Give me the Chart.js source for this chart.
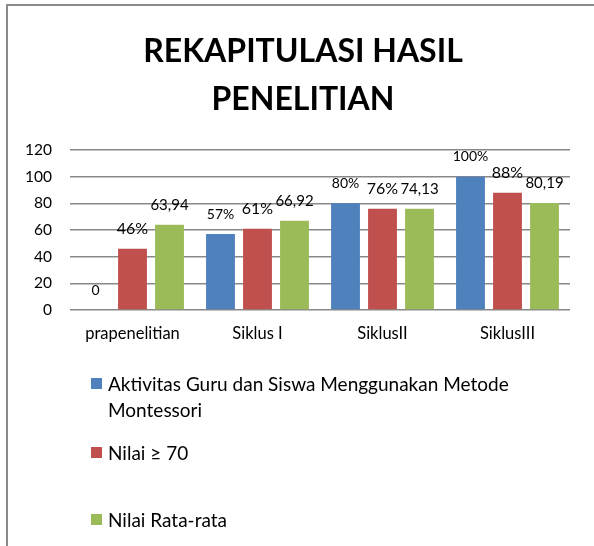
<!DOCTYPE html>
<html>
<head>
<meta charset="utf-8">
<script src="https://cdn.jsdelivr.net/npm/chart.js@4"></script>
<style>
  body { margin: 0; background: #fff; }
  #wrap { position: relative; width: 594px; height: 546px; overflow: hidden; }
  #judul { position: absolute; left: 0; top: 26px; width: 606px; text-align: center;
           font-family: Lato, "Open Sans", sans-serif; font-size: 32px; font-weight: bold;
           line-height: 47.5px; color: #000; }
  #legend { position: absolute; left: 91px; top: 371px; width: 460px;
            font-family: Lato, "Open Sans", sans-serif; font-size: 19px; color: #000; }
  .lg-item { position: relative; padding-left: 17px; line-height: 26px; }
  .lg-item .sw { position: absolute; left: 0; top: 7px; width: 11px; height: 11px; }
  .lg-item:nth-child(2) { margin-top: 17px; }
  .lg-item:nth-child(3) { margin-top: 41px; }
</style>
</head>
<body>
<div id="wrap">
  <canvas id="rekap-chart" width="594" height="546"></canvas>
  <div id="judul"></div>
  <div id="legend"></div>
</div>
<script>
/*** data ***/
const judul = ['REKAPITULASI HASIL', 'PENELITIAN'];
const kategori = ['prapenelitian', 'Siklus I', 'SiklusII', 'SiklusIII'];
const namaSeri = ['Aktivitas Guru dan Siswa Menggunakan Metode Montessori', 'Nilai \u2265 70', 'Nilai Rata-rata'];
const aktivitas = [0, 57, 80, 100];
const nilai70 = [46, 61, 76, 88];
const rataRata = [63.94, 66.92, 76, 80.19];
const labelAktivitas = ['0', '57%', '80%', '100%'];
const labelNilai70 = ['46%', '61%', '76%', '88%'];
const labelRataRata = ['63,94', '66,92', '74,13', '80,19'];
const yTicks = [0, 20, 40, 60, 80, 100, 120];

const warna = ['#4F81BD', '#C0504D', '#9BBB59'];
const fontUtama = 'Lato, "Open Sans", sans-serif';

/*** label di atas batang ***/
const labelBatang = {
    id: 'labelBatang',
    afterDatasetsDraw(chart) {
        const c = chart.ctx;
        c.save();
        c.textAlign = 'center';
        c.textBaseline = 'middle';
        c.fillStyle = '#000';
        chart.data.datasets.forEach((ds, i) => {
            const meta = chart.getDatasetMeta(i);
            c.font = ds.labelSize + 'px ' + fontUtama;
            meta.data.forEach((bar, j) => {
                c.fillText(ds.teks[j], bar.x, bar.y - 20);
            });
        });
        c.restore();
    }
};

/*** bingkai ***/
const bingkai = {
    id: 'bingkai',
    beforeDraw(chart) {
        const c = chart.ctx;
        c.save();
        c.fillStyle = '#fff';
        c.fillRect(0, 0, chart.width, chart.height);
        c.strokeStyle = '#8a8a8a';
        c.lineWidth = 2;
        c.strokeRect(7, 5, 700, 700);
        c.restore();
    }
};

const ctx = document.getElementById('rekap-chart').getContext('2d');
const myChart = new Chart(ctx, {
    type: 'bar',
    data: {
        labels: kategori,
        datasets: [
            { label: namaSeri[0], data: aktivitas, backgroundColor: warna[0], teks: labelAktivitas, labelSize: 14 },
            { label: namaSeri[1], data: nilai70, backgroundColor: warna[1], teks: labelNilai70, labelSize: 16 },
            { label: namaSeri[2], data: rataRata, backgroundColor: warna[2], teks: labelRataRata, labelSize: 15 }
        ]
    },
    options: {
        responsive: false,
        animation: false,
        categoryPercentage: 0.888,
        barPercentage: 0.78,
        layout: { padding: { left: 8, right: 24, top: 150, bottom: 196 } },
        plugins: {
            legend: { display: false },
            tooltip: { enabled: false },
            title: { display: false }
        },
        scales: {
            x: {
                grid: { display: false, drawTicks: false },
                border: { display: false },
                ticks: { color: '#000', font: { family: fontUtama, size: 16.5 }, padding: 14 },
                afterFit(scale) { scale.height = 40; }
            },
            y: {
                min: 0,
                max: 120,
                afterBuildTicks(scale) { scale.ticks = yTicks.map(v => ({ value: v })); },
                grid: { color: '#888', lineWidth: 1.5, drawTicks: false },
                border: { display: false },
                ticks: { color: '#000', font: { family: fontUtama, size: 15.5 }, padding: 18 },
                afterFit(scale) { scale.width = 62; }
            }
        }
    },
    plugins: [bingkai, labelBatang]
});

/*** judul ***/
document.getElementById('judul').innerHTML = judul.join('<br>');

/*** legenda ***/
const legend = document.getElementById('legend');
myChart.data.datasets.forEach(ds => {
    const item = document.createElement('div');
    item.className = 'lg-item';
    item.innerHTML = '<span class="sw" style="background:' + ds.backgroundColor + '"></span>' + ds.label;
    legend.appendChild(item);
});
</script>
</body>
</html>
